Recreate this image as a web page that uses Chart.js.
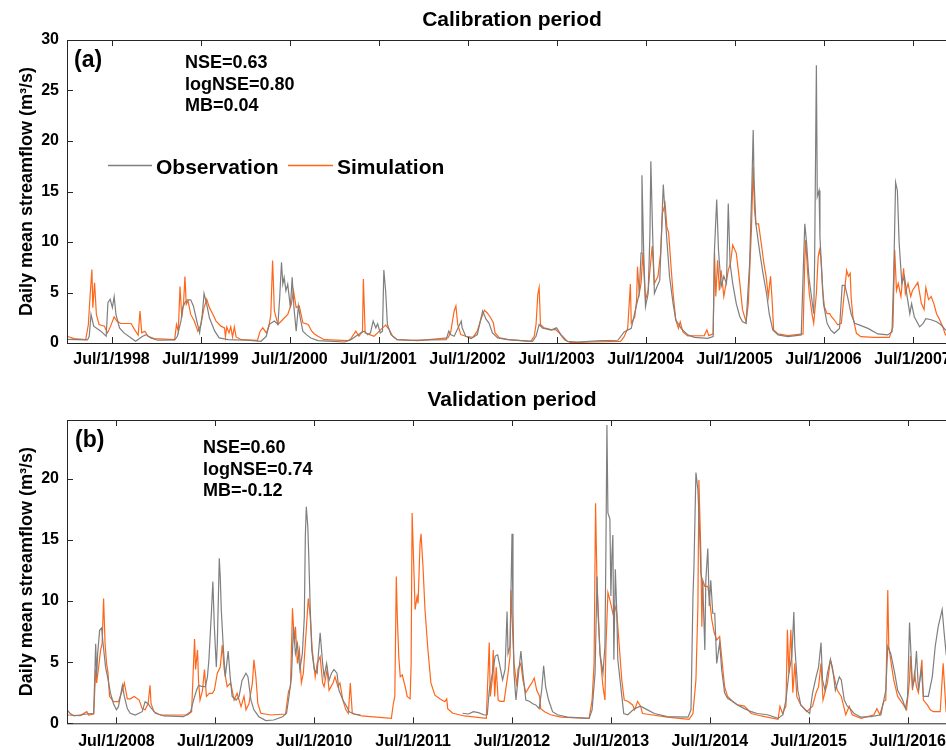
<!DOCTYPE html>
<html>
<head>
<meta charset="utf-8">
<title>Daily mean streamflow</title>
<script src="https://cdn.jsdelivr.net/npm/chart.js@4.4.1/dist/chart.umd.min.js"></script>
<style>
  html, body { margin: 0; padding: 0; background: #fff; overflow: hidden; }
  .panel { position: absolute; left: 0; }
  #calPanel { top: 0; }
  #valPanel { top: 375px; }
</style>
</head>
<body>
<canvas id="calChart" class="panel" width="965" height="375" style="top:0"></canvas>
<canvas id="valChart" class="panel" width="965" height="375" style="top:375px"></canvas>
<script>
// [decimal year, m3/s]  (Jul 1 of a year = year + 0.5)
const calObs = [
  [1998.00,0.35],[1998.23,0.3],[1998.25,0.67],[1998.27,2.83],[1998.30,1.67],[1998.38,1.17],[1998.44,0.67],
  [1998.46,4.0],[1998.485,4.33],[1998.51,3.5],[1998.53,4.6],[1998.55,2.83],[1998.59,1.5],[1998.64,1.0],
  [1998.72,0.5],[1998.77,0.17],[1998.85,0.67],[1998.89,0.83],[1998.94,0.5],[1999.02,0.27],[1999.21,0.3],
  [1999.24,0.67],[1999.28,2.17],[1999.30,3.5],[1999.325,4.0],[1999.355,4.27],[1999.39,4.27],[1999.42,3.67],
  [1999.45,2.5],[1999.49,1.0],[1999.52,2.83],[1999.54,4.9],[1999.57,3.83],[1999.60,2.5],[1999.66,1.17],
  [1999.71,0.5],[1999.81,0.33],[2000.03,0.27],[2000.18,0.17],[2000.24,0.67],[2000.27,1.83],[2000.33,2.17],
  [2000.37,1.83],[2000.39,4.5],[2000.41,8.0],[2000.425,5.83],[2000.44,6.5],[2000.46,5.17],[2000.48,5.83],
  [2000.51,3.5],[2000.53,6.5],[2000.55,3.5],[2000.575,1.17],[2000.60,3.67],[2000.62,2.5],[2000.65,1.17],
  [2000.69,0.83],[2000.74,0.5],[2000.82,0.23],[2001.12,0.1],[2001.19,0.33],[2001.245,0.67],[2001.30,1.0],
  [2001.34,1.17],[2001.38,0.83],[2001.41,1.0],[2001.44,2.17],[2001.47,1.5],[2001.49,1.9],[2001.52,1.0],
  [2001.545,1.17],[2001.56,7.23],[2001.58,5.17],[2001.60,1.83],[2001.64,0.83],[2001.71,0.33],[2001.86,0.27],
  [2002.26,0.33],[2002.29,1.17],[2002.31,0.83],[2002.35,0.67],[2002.43,2.17],[2002.44,1.5],[2002.48,0.67],
  [2002.54,0.43],[2002.61,0.83],[2002.67,3.17],[2002.71,2.33],[2002.74,2.0],[2002.78,1.0],[2002.84,0.5],
  [2002.95,0.33],[2003.23,0.17],[2003.27,0.67],[2003.305,1.83],[2003.34,1.5],[2003.44,1.27],[2003.50,1.5],
  [2003.55,0.83],[2003.62,0.17],[2003.74,0.1],[2004.00,0.23],[2004.19,0.27],[2004.26,1.1],[2004.34,1.45],
  [2004.395,3.6],[2004.43,4.9],[2004.45,8.9],[2004.46,16.6],[2004.48,8.9],[2004.50,3.6],[2004.53,4.9],
  [2004.55,10.9],[2004.56,18.0],[2004.58,10.9],[2004.60,4.9],[2004.63,5.6],[2004.66,6.2],[2004.68,10.9],
  [2004.69,13.5],[2004.70,15.7],[2004.72,12.8],[2004.74,10.2],[2004.77,6.6],[2004.81,3.9],[2004.84,2.3],
  [2004.90,1.45],[2004.975,0.8],[2005.05,0.56],[2005.20,0.46],[2005.26,0.63],[2005.275,9.2],[2005.30,14.2],
  [2005.32,9.2],[2005.35,5.6],[2005.38,6.6],[2005.41,5.9],[2005.43,13.8],[2005.45,7.9],[2005.48,5.9],
  [2005.52,3.9],[2005.56,2.6],[2005.59,2.1],[2005.63,1.95],[2005.67,7.9],[2005.695,15.5],[2005.71,21.1],
  [2005.72,16.1],[2005.74,11.8],[2005.78,9.2],[2005.82,6.9],[2005.86,4.9],[2005.89,2.9],[2005.93,1.3],
  [2005.99,0.8],[2006.10,0.63],[2006.25,0.8],[2006.275,7.9],[2006.29,11.8],[2006.31,9.9],[2006.335,6.6],
  [2006.36,4.9],[2006.39,2.9],[2006.40,7.9],[2006.42,27.5],[2006.43,14.5],[2006.45,15.1],[2006.46,10.5],
  [2006.48,7.2],[2006.50,3.9],[2006.54,1.95],[2006.58,1.3],[2006.62,0.96],[2006.68,1.45],[2006.71,5.7],
  [2006.74,5.7],[2006.77,4.6],[2006.81,2.9],[2006.85,1.95],[2006.90,1.8],[2007.00,1.45],[2007.11,0.9],
  [2007.22,0.8],[2007.27,1.1],[2007.29,7.2],[2007.31,15.9],[2007.33,15.1],[2007.35,9.9],[2007.38,5.9],
  [2007.41,6.6],[2007.44,4.6],[2007.47,2.9],[2007.49,3.9],[2007.52,2.6],[2007.58,1.6],[2007.62,1.95],
  [2007.65,2.4],[2007.71,2.3],[2007.77,2.1],[2007.82,1.8],[2007.87,1.3],[2007.93,1.0],[2008.00,0.9]
];

const calSim = [
  [1998.00,0.67],[1998.08,0.43],[1998.21,0.33],[1998.24,1.83],[1998.26,4.77],[1998.28,7.27],[1998.29,3.5],
  [1998.31,5.97],[1998.33,2.83],[1998.36,1.83],[1998.42,1.67],[1998.455,1.0],[1998.49,1.67],[1998.53,2.6],
  [1998.56,2.17],[1998.605,1.93],[1998.72,1.93],[1998.76,1.33],[1998.80,0.77],[1998.82,3.17],[1998.84,1.0],
  [1998.875,1.17],[1998.91,0.67],[1998.98,0.43],[1999.21,0.33],[1999.23,1.83],[1999.25,1.17],[1999.27,5.6],
  [1999.29,2.5],[1999.31,4.0],[1999.325,6.57],[1999.34,3.83],[1999.36,4.17],[1999.39,2.83],[1999.43,2.17],
  [1999.47,1.17],[1999.505,1.83],[1999.54,3.5],[1999.57,4.33],[1999.60,3.5],[1999.64,2.83],[1999.675,2.17],
  [1999.73,1.67],[1999.77,1.5],[1999.78,0.6],[1999.795,1.57],[1999.82,1.0],[1999.84,1.6],[1999.86,0.6],
  [1999.88,1.6],[1999.90,0.6],[1999.96,0.33],[2000.14,0.27],[2000.17,1.17],[2000.20,1.5],[2000.24,1.0],
  [2000.27,1.67],[2000.29,2.83],[2000.31,8.17],[2000.33,3.17],[2000.37,1.83],[2000.425,2.33],[2000.48,2.83],
  [2000.52,3.83],[2000.545,5.17],[2000.575,3.5],[2000.61,3.67],[2000.65,2.0],[2000.71,1.83],[2000.75,1.17],
  [2000.78,0.9],[2000.82,0.67],[2000.89,0.33],[2001.16,0.23],[2001.19,0.43],[2001.245,1.17],[2001.28,0.67],
  [2001.32,1.17],[2001.33,6.33],[2001.35,1.0],[2001.40,0.83],[2001.45,0.67],[2001.49,1.0],[2001.545,1.5],
  [2001.58,1.77],[2001.62,1.33],[2001.66,0.67],[2001.71,0.33],[2001.94,0.23],[2002.28,0.5],[2002.31,1.0],
  [2002.35,3.17],[2002.37,3.67],[2002.39,1.83],[2002.425,0.83],[2002.48,0.67],[2002.56,0.57],[2002.61,1.17],
  [2002.65,2.33],[2002.69,3.23],[2002.72,3.0],[2002.76,2.5],[2002.79,2.0],[2002.81,1.0],[2002.86,0.5],
  [2002.99,0.3],[2003.21,0.17],[2003.25,0.67],[2003.27,1.83],[2003.29,4.83],[2003.305,5.5],[2003.32,1.83],
  [2003.36,1.5],[2003.44,1.33],[2003.49,1.33],[2003.53,1.0],[2003.59,0.33],[2003.66,0.03],[2003.89,0.1],
  [2004.22,0.17],[2004.26,0.63],[2004.30,1.45],[2004.33,5.84],[2004.34,1.95],[2004.38,2.6],[2004.40,4.26],
  [2004.41,7.56],[2004.43,4.9],[2004.45,5.9],[2004.47,8.9],[2004.50,4.26],[2004.53,5.25],[2004.575,9.6],
  [2004.60,5.9],[2004.64,6.6],[2004.67,8.9],[2004.69,12.8],[2004.72,13.8],[2004.74,11.5],[2004.76,10.9],
  [2004.79,7.2],[2004.81,4.9],[2004.84,2.3],[2004.87,1.45],[2004.89,2.1],[2004.92,1.1],[2004.975,0.7],
  [2005.16,0.73],[2005.19,1.3],[2005.21,0.73],[2005.26,0.9],[2005.275,9.0],[2005.29,4.6],[2005.31,8.2],
  [2005.33,5.2],[2005.35,7.2],[2005.38,4.6],[2005.405,5.9],[2005.43,7.2],[2005.455,7.9],[2005.48,9.7],
  [2005.52,8.9],[2005.56,5.9],[2005.59,3.3],[2005.63,2.1],[2005.655,3.9],[2005.69,11.2],[2005.71,17.4],
  [2005.725,13.2],[2005.74,11.8],[2005.77,11.8],[2005.80,9.9],[2005.83,7.9],[2005.855,6.6],[2005.88,4.6],
  [2005.905,6.6],[2005.92,4.6],[2005.94,1.3],[2005.99,0.9],[2006.10,0.73],[2006.27,0.9],[2006.29,8.2],
  [2006.30,10.2],[2006.32,7.2],[2006.34,4.9],[2006.37,2.9],[2006.39,1.95],[2006.42,4.9],[2006.44,8.5],
  [2006.455,9.2],[2006.47,8.5],[2006.49,5.2],[2006.51,3.6],[2006.54,2.9],[2006.57,2.9],[2006.59,2.6],
  [2006.62,2.3],[2006.66,1.8],[2006.70,1.95],[2006.73,4.6],[2006.76,7.2],[2006.78,6.6],[2006.80,6.9],
  [2006.81,4.6],[2006.83,2.6],[2006.87,0.96],[2006.92,0.63],[2007.07,0.56],[2007.24,0.56],[2007.28,1.6],
  [2007.30,9.2],[2007.32,5.2],[2007.34,5.9],[2007.37,4.6],[2007.40,7.4],[2007.42,4.9],[2007.45,5.9],
  [2007.48,4.6],[2007.50,5.2],[2007.53,5.6],[2007.56,6.0],[2007.60,3.9],[2007.63,3.3],[2007.65,5.5],
  [2007.68,4.3],[2007.71,4.6],[2007.74,3.9],[2007.77,2.9],[2007.80,2.4],[2007.84,1.6],[2007.87,0.8],
  [2008.00,0.6]
];

// observed record has no data for most of 2011
const valObs = [
  [2008.00,1.09],[2008.03,0.82],[2008.07,0.6],[2008.135,0.68],[2008.20,0.76],[2008.27,0.82],[2008.29,6.5],
  [2008.30,3.8],[2008.31,5.7],[2008.33,7.6],[2008.35,7.8],[2008.365,6.5],[2008.39,4.6],[2008.41,3.8],
  [2008.44,2.45],[2008.47,1.6],[2008.50,1.1],[2008.52,1.36],[2008.54,2.2],[2008.56,3.1],[2008.58,2.2],
  [2008.61,1.2],[2008.64,0.82],[2008.69,0.68],[2008.76,0.95],[2008.79,1.77],[2008.82,1.6],[2008.84,1.36],
  [2008.895,0.82],[2008.98,0.6],[2009.18,0.54],[2009.25,0.95],[2009.28,1.9],[2009.31,2.7],[2009.33,3.1],
  [2009.37,3.0],[2009.40,3.0],[2009.42,3.8],[2009.435,5.2],[2009.46,9.0],[2009.475,11.6],[2009.49,7.9],
  [2009.51,4.6],[2009.52,6.5],[2009.54,13.5],[2009.55,11.9],[2009.56,9.3],[2009.58,6.3],[2009.60,3.8],
  [2009.63,5.9],[2009.65,3.8],[2009.67,2.2],[2009.71,1.9],[2009.74,2.2],[2009.77,3.5],[2009.81,4.1],
  [2009.83,3.8],[2009.86,1.9],[2009.89,1.1],[2009.94,0.54],[2010.01,0.22],[2010.09,0.27],[2010.18,0.54],
  [2010.22,0.82],[2010.245,2.2],[2010.27,3.8],[2010.29,7.9],[2010.31,5.7],[2010.33,6.5],[2010.355,4.4],
  [2010.38,5.7],[2010.40,8.7],[2010.41,15.3],[2010.42,17.7],[2010.435,16.1],[2010.445,13.6],[2010.46,9.3],
  [2010.475,6.0],[2010.50,4.4],[2010.53,4.1],[2010.54,5.4],[2010.56,7.4],[2010.585,4.9],[2010.60,3.8],
  [2010.625,4.9],[2010.65,3.5],[2010.675,4.1],[2010.70,4.4],[2010.73,4.1],[2010.75,2.7],[2010.79,1.9],
  [2010.82,1.5],[2010.855,0.95],[2010.905,0.76],[2010.97,0.68],[2011.5,null],
  [2012.00,0.82],[2012.06,0.76],[2012.11,0.95],[2012.16,0.87],[2012.22,0.68],[2012.25,0.7],[2012.27,2.7],
  [2012.29,3.55],[2012.31,4.4],[2012.33,5.5],[2012.355,5.6],[2012.38,4.6],[2012.405,3.55],[2012.43,4.4],
  [2012.45,9.15],[2012.46,5.7],[2012.48,6.3],[2012.50,15.5],[2012.51,9.0],[2012.52,4.1],[2012.54,1.9],
  [2012.56,3.55],[2012.57,4.4],[2012.59,5.9],[2012.61,4.1],[2012.64,1.9],[2012.675,1.8],[2012.71,1.6],
  [2012.74,1.5],[2012.775,1.2],[2012.80,2.7],[2012.82,4.7],[2012.84,3.0],[2012.87,1.9],[2012.91,0.95],
  [2012.96,0.7],[2013.06,0.5],[2013.28,0.4],[2013.31,1.1],[2013.34,4.1],[2013.36,12.0],[2013.37,9.0],
  [2013.39,5.7],[2013.42,4.1],[2013.44,6.3],[2013.45,14.5],[2013.46,24.4],[2013.47,17.2],[2013.49,16.7],
  [2013.50,10.4],[2013.51,13.7],[2013.52,15.4],[2013.53,5.2],[2013.545,12.6],[2013.56,9.0],[2013.57,5.2],
  [2013.60,3.0],[2013.63,0.8],[2013.67,0.7],[2013.74,1.2],[2013.80,1.4],[2013.87,1.1],[2013.94,0.8],
  [2014.07,0.55],[2014.28,0.5],[2014.31,1.1],[2014.33,10.4],[2014.34,12.8],[2014.36,20.5],[2014.38,19.1],
  [2014.40,15.0],[2014.41,12.3],[2014.43,11.2],[2014.45,6.0],[2014.46,11.7],[2014.48,14.3],[2014.495,9.6],
  [2014.51,11.7],[2014.53,9.0],[2014.55,9.0],[2014.57,4.9],[2014.60,6.6],[2014.62,4.4],[2014.65,2.5],
  [2014.68,2.05],[2014.73,1.8],[2014.78,1.5],[2014.85,1.2],[2014.92,0.95],[2014.98,0.8],[2015.085,0.7],
  [2015.19,0.4],[2015.24,0.7],[2015.27,1.9],[2015.30,4.1],[2015.33,5.5],[2015.35,9.1],[2015.36,6.3],
  [2015.39,2.7],[2015.42,1.5],[2015.47,1.1],[2015.51,0.8],[2015.54,2.5],[2015.575,3.8],[2015.60,4.6],
  [2015.625,6.6],[2015.64,3.55],[2015.665,2.7],[2015.69,4.1],[2015.72,5.2],[2015.74,4.6],[2015.77,2.7],
  [2015.81,3.8],[2015.83,3.55],[2015.86,1.9],[2015.89,1.4],[2015.92,1.2],[2015.96,0.8],[2016.03,0.5],
  [2016.13,0.55],[2016.23,0.7],[2016.28,2.7],[2016.30,6.3],[2016.33,5.7],[2016.37,4.1],[2016.40,2.7],
  [2016.45,1.9],[2016.48,1.2],[2016.50,2.2],[2016.52,8.25],[2016.55,3.0],[2016.57,3.55],[2016.59,5.9],
  [2016.61,2.7],[2016.64,4.4],[2016.66,2.2],[2016.71,2.2],[2016.75,3.8],[2016.78,6.3],[2016.81,7.9],
  [2016.85,9.3],[2016.87,7.4],[2016.89,5.7],[2016.93,4.0]
];

const valSim = [
  [2008.00,0.68],[2008.135,0.63],[2008.20,0.95],[2008.22,0.68],[2008.27,0.76],[2008.29,4.4],[2008.30,3.3],
  [2008.32,4.6],[2008.34,6.0],[2008.355,6.5],[2008.37,10.2],[2008.385,6.5],[2008.40,4.9],[2008.415,4.1],
  [2008.43,2.2],[2008.47,1.77],[2008.52,1.77],[2008.56,2.7],[2008.58,3.3],[2008.61,2.0],[2008.64,2.0],
  [2008.68,2.2],[2008.73,1.9],[2008.76,1.2],[2008.79,1.1],[2008.82,1.6],[2008.84,3.1],[2008.85,1.6],
  [2008.88,0.95],[2008.945,0.68],[2009.22,0.68],[2009.26,0.95],[2009.28,5.0],[2009.29,6.9],[2009.30,4.4],
  [2009.32,6.0],[2009.33,3.5],[2009.345,1.9],[2009.37,2.7],[2009.39,4.4],[2009.41,2.2],[2009.44,2.45],
  [2009.47,2.45],[2009.49,2.7],[2009.52,4.1],[2009.55,4.6],[2009.57,6.4],[2009.59,4.4],[2009.62,3.0],
  [2009.655,3.3],[2009.69,1.9],[2009.72,2.45],[2009.76,1.36],[2009.79,2.2],[2009.81,1.1],[2009.84,1.6],
  [2009.875,3.3],[2009.89,5.2],[2009.91,3.8],[2009.93,1.6],[2009.96,0.82],[2010.06,0.68],[2010.21,0.76],
  [2010.24,2.6],[2010.26,3.0],[2010.28,9.4],[2010.30,6.5],[2010.31,7.9],[2010.33,4.9],[2010.35,6.0],
  [2010.37,3.3],[2010.39,4.1],[2010.41,6.5],[2010.44,10.2],[2010.46,8.7],[2010.48,6.0],[2010.51,3.8],
  [2010.53,4.9],[2010.56,5.45],[2010.585,3.3],[2010.60,3.0],[2010.63,4.4],[2010.65,2.7],[2010.69,3.3],
  [2010.71,3.8],[2010.74,3.0],[2010.76,3.3],[2010.79,1.9],[2010.82,1.1],[2010.845,0.82],[2010.865,3.3],
  [2010.885,0.8],[2010.98,0.6],[2011.28,0.41],[2011.30,1.6],[2011.315,2.2],[2011.33,12.0],[2011.34,8.7],
  [2011.355,5.45],[2011.37,3.8],[2011.39,3.95],[2011.42,3.0],[2011.44,2.2],[2011.47,2.0],[2011.48,4.9],
  [2011.49,17.2],[2011.51,12.0],[2011.52,9.3],[2011.54,10.35],[2011.55,9.8],[2011.57,14.7],[2011.58,15.5],
  [2011.60,12.8],[2011.62,9.3],[2011.65,6.0],[2011.68,3.3],[2011.72,2.3],[2011.77,2.0],[2011.82,1.77],
  [2011.84,2.0],[2011.85,1.2],[2011.90,0.82],[2012.02,0.6],[2012.24,0.41],[2012.27,6.6],[2012.28,2.2],
  [2012.30,3.55],[2012.31,6.0],[2012.325,2.2],[2012.34,4.6],[2012.36,1.9],[2012.38,1.8],[2012.42,1.8],
  [2012.46,4.1],[2012.48,5.5],[2012.49,10.9],[2012.51,6.8],[2012.52,4.9],[2012.55,3.0],[2012.56,4.4],
  [2012.59,4.9],[2012.61,3.55],[2012.64,2.5],[2012.675,3.0],[2012.70,3.3],[2012.725,3.7],[2012.75,2.7],
  [2012.78,2.2],[2012.79,1.2],[2012.83,0.95],[2012.89,0.7],[2012.995,0.5],[2013.28,0.4],[2013.31,1.9],
  [2013.33,4.9],[2013.345,18.0],[2013.36,11.2],[2013.37,9.6],[2013.39,5.7],[2013.42,3.0],[2013.44,1.9],
  [2013.45,6.3],[2013.47,10.7],[2013.49,10.1],[2013.52,9.0],[2013.54,9.6],[2013.56,9.0],[2013.585,6.3],
  [2013.61,3.55],[2013.635,1.9],[2013.67,1.8],[2013.72,1.5],[2013.74,1.1],[2013.77,1.8],[2013.80,1.4],
  [2013.82,0.8],[2013.905,0.7],[2014.07,0.5],[2014.29,0.33],[2014.33,0.8],[2014.36,3.55],[2014.38,9.6],
  [2014.39,19.9],[2014.41,13.9],[2014.42,7.9],[2014.43,11.7],[2014.45,11.2],[2014.48,11.2],[2014.495,10.4],
  [2014.52,8.5],[2014.545,7.4],[2014.57,6.8],[2014.60,7.1],[2014.63,4.6],[2014.65,3.0],[2014.68,2.2],
  [2014.73,1.8],[2014.78,1.5],[2014.85,1.4],[2014.92,0.8],[2015.02,0.6],[2015.19,0.33],[2015.21,1.4],
  [2015.235,0.8],[2015.27,1.4],[2015.285,7.65],[2015.30,4.1],[2015.32,7.65],[2015.34,2.5],[2015.36,4.9],
  [2015.38,2.2],[2015.42,1.5],[2015.48,0.95],[2015.54,1.4],[2015.575,2.5],[2015.60,3.0],[2015.625,4.9],
  [2015.645,1.9],[2015.67,2.7],[2015.69,3.3],[2015.72,5.2],[2015.74,4.4],[2015.765,3.55],[2015.79,2.7],
  [2015.83,2.2],[2015.86,1.2],[2015.875,0.7],[2015.91,1.4],[2015.94,0.7],[2016.03,0.4],[2016.16,0.7],
  [2016.19,1.2],[2016.22,0.7],[2016.26,1.8],[2016.28,1.9],[2016.30,10.9],[2016.31,6.3],[2016.34,4.6],
  [2016.36,3.55],[2016.40,2.2],[2016.45,1.6],[2016.49,1.1],[2016.52,3.55],[2016.53,5.5],[2016.55,2.7],
  [2016.57,4.1],[2016.59,3.0],[2016.61,2.5],[2016.645,5.2],[2016.66,1.9],[2016.70,1.5],[2016.73,1.1],
  [2016.76,0.95],[2016.83,0.95],[2016.86,4.9],[2016.87,3.55],[2016.89,0.95],[2016.93,0.9]
];

const calTickYears = [1998, 1999, 2000, 2001, 2002, 2003, 2004, 2005, 2006, 2007];
const valTickYears = [2008, 2009, 2010, 2011, 2012, 2013, 2014, 2015, 2016];
const calYTicks = [0, 5, 10, 15, 20, 25, 30];
const valYTicks = [0, 5, 10, 15, 20];

const calStats = ["NSE=0.63", "logNSE=0.80", "MB=0.04"];
const valStats = ["NSE=0.60", "logNSE=0.74", "MB=-0.12"];
const seriesNames = ["Observation", "Simulation"];

const FONT = "'Liberation Sans', Arial, Helvetica, sans-serif";
const OBS_COLOR = "#7f7f7f";
const SIM_COLOR = "#ff661a";
const AXIS_COLOR = "#262626";

Chart.defaults.font.family = FONT;
Chart.defaults.color = "#000";

const toPoints = (rows) => rows.map(([t, q]) => ({ x: t, y: q }));

// box, inward tick marks, panel letter, fit statistics and the legend
const panelDecor = {
  id: "panelDecor",
  afterDraw(chart, args, opts) {
    const { ctx, chartArea: a, scales: { x, y } } = chart;
    ctx.save();
    ctx.strokeStyle = AXIS_COLOR;
    ctx.lineWidth = 1;
    ctx.strokeRect(a.left + 0.5, a.top + 0.5, a.right - a.left, a.bottom - a.top);
    ctx.beginPath();
    x.ticks.forEach((t) => {
      const px = Math.round(x.getPixelForValue(t.value)) + 0.5;
      ctx.moveTo(px, a.bottom); ctx.lineTo(px, a.bottom - 6);
      ctx.moveTo(px, a.top); ctx.lineTo(px, a.top + 6);
    });
    y.ticks.forEach((t) => {
      const py = Math.round(y.getPixelForValue(t.value)) + 0.5;
      ctx.moveTo(a.left, py); ctx.lineTo(a.left + 6, py);
      ctx.moveTo(a.right, py); ctx.lineTo(a.right - 6, py);
    });
    ctx.stroke();

    ctx.fillStyle = "#000";
    ctx.textBaseline = "alphabetic";
    ctx.textAlign = "left";
    ctx.font = "bold 23px " + FONT;
    ctx.fillText(opts.letter, opts.letterX, opts.letterY);

    ctx.font = "bold 18px " + FONT;
    opts.stats.forEach((s, i) => ctx.fillText(s, opts.statsX, opts.statsY + i * opts.statsGap));

    if (opts.legend) {
      const lg = opts.legend;
      ctx.font = "bold 21px " + FONT;
      ctx.lineWidth = 1.3;
      [OBS_COLOR, SIM_COLOR].forEach((c, i) => {
        const it = lg.items[i];
        ctx.strokeStyle = c;
        ctx.beginPath();
        ctx.moveTo(it.x0, lg.lineY);
        ctx.lineTo(it.x1, lg.lineY);
        ctx.stroke();
        ctx.fillText(seriesNames[i], it.textX, lg.textY);
      });
    }
    ctx.restore();
  }
};

function makeChart(canvasId, cfg) {
  const ctx = document.getElementById(canvasId).getContext("2d");
  return new Chart(ctx, {
    type: "line",
    data: {
      datasets: [
        {
          label: seriesNames[0],
          data: toPoints(cfg.obs),
          borderColor: OBS_COLOR,
          borderWidth: 1.2,
          pointRadius: 0,
          spanGaps: false,
        },
        {
          label: seriesNames[1],
          data: toPoints(cfg.sim),
          borderColor: SIM_COLOR,
          borderWidth: 1.2,
          pointRadius: 0,
        },
      ],
    },
    options: {
      responsive: false,
      animation: false,
      devicePixelRatio: 1,
      layout: { padding: { left: 0, right: 8, top: 0, bottom: 0 } },
      plugins: {
        legend: { display: false },
        tooltip: { enabled: false },
        title: {
          display: true,
          text: cfg.title,
          fullSize: false,
          color: "#000",
          font: { size: 21, weight: "bold" },
          padding: { top: cfg.titleTop, bottom: cfg.titleBottom },
        },
        panelDecor: cfg.decor,
      },
      scales: {
        x: {
          type: "linear",
          min: cfg.xMin,
          max: cfg.xMax,
          grid: { display: false, drawTicks: false },
          border: { display: false },
          afterBuildTicks: (scale) => {
            scale.ticks = cfg.tickYears.map((yr) => ({ value: yr + 0.5 }));
          },
          afterFit: (scale) => { scale.height = cfg.xAxisHeight; },
          ticks: {
            autoSkip: false,
            maxRotation: 0,
            padding: cfg.xLabelPad,
            color: "#000",
            font: { size: 16, weight: "bold" },
            callback: (v) => "Jul/1/" + Math.floor(v),
          },
        },
        y: {
          min: 0,
          max: cfg.yMax,
          grid: { display: false, drawTicks: false },
          border: { display: false },
          afterBuildTicks: (scale) => {
            scale.ticks = cfg.yTicks.map((v) => ({ value: v }));
          },
          afterFit: (scale) => { scale.width = 67; },
          ticks: {
            padding: 8,
            color: "#000",
            font: { size: 16, weight: "bold" },
          },
          title: {
            display: true,
            text: "Daily mean streamflow (m³/s)",
            color: "#000",
            font: { size: 18, weight: "bold" },
            padding: { top: 16, bottom: 0 },
          },
        },
      },
    },
    plugins: [panelDecor],
  });
}

makeChart("calChart", {
  obs: calObs,
  sim: calSim,
  title: "Calibration period",
  titleTop: 8,
  titleBottom: 6.8,
  xMin: 1998,
  xMax: 2008,
  tickYears: calTickYears,
  xAxisHeight: 32,
  xLabelPad: 7,
  yMax: 30,
  yTicks: calYTicks,
  decor: {
    letter: "(a)", letterX: 74, letterY: 67,
    stats: calStats, statsX: 185, statsY: 68, statsGap: 21.5,
    legend: {
      lineY: 165.5, textY: 173.5,
      items: [
        { x0: 108, x1: 152, textX: 156 },
        { x0: 288, x1: 333, textX: 337 },
      ],
    },
  },
});

makeChart("valChart", {
  obs: valObs,
  sim: valSim,
  title: "Validation period",
  titleTop: 13,
  titleBottom: 6.8,
  xMin: 2008,
  xMax: 2017,
  tickYears: valTickYears,
  xAxisHeight: 26.7,
  xLabelPad: 8.5,
  yMax: 24.8,
  yTicks: valYTicks,
  decor: {
    letter: "(b)", letterX: 75, letterY: 72,
    stats: valStats, statsX: 203, statsY: 78.3, statsGap: 21.5,
    legend: null,
  },
});
</script>
</body>
</html>
